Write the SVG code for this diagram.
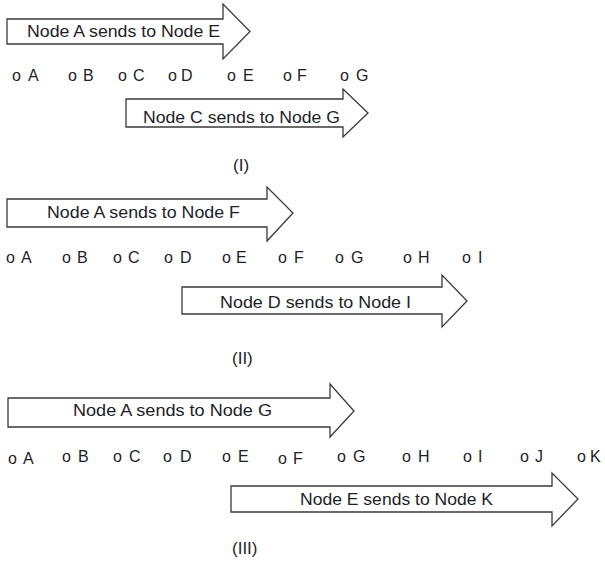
<svg xmlns="http://www.w3.org/2000/svg" width="605" height="562" viewBox="0 0 605 562">
<style>
.arrow{fill:#ffffff;stroke:#3a3a3a;stroke-width:1.3;stroke-linejoin:miter}
.lbl{font-family:"Liberation Sans",Arial,sans-serif;font-size:16px;fill:#1e1e28}
.nd{font-family:"Liberation Sans",Arial,sans-serif;font-size:16px;fill:#1e1e28}
.cap{font-family:"Liberation Sans",Arial,sans-serif;font-size:17px;fill:#1e1e28}
</style>
<rect width="605" height="562" fill="#ffffff"/>
<g id="connectors">
  <g id="arrow-I-1">
    <polygon class="arrow" points="7,19 223,19 223,4 250,31.5 223,59 223,44 7,44"/>
    <text class="lbl" x="27" y="37" textLength="193" lengthAdjust="spacingAndGlyphs">Node A sends to Node E</text>
  </g>
  <g id="arrow-I-2">
    <polygon class="arrow" points="126,99 343,99 343,89 368,113 343,137 343,127 126,127"/>
    <text class="lbl" x="143" y="123" textLength="197" lengthAdjust="spacingAndGlyphs">Node C sends to Node G</text>
  </g>
  <g id="arrow-II-1">
    <polygon class="arrow" points="7,199 267,199 267,187 293,213 267,241 267,227 7,227"/>
    <text class="lbl" x="47" y="218" textLength="193" lengthAdjust="spacingAndGlyphs">Node A sends to Node F</text>
  </g>
  <g id="arrow-II-2">
    <polygon class="arrow" points="182,287 442,287 442,275 467,301 442,327 442,314 182,314"/>
    <text class="lbl" x="220" y="308" textLength="191" lengthAdjust="spacingAndGlyphs">Node D sends to Node I</text>
  </g>
  <g id="arrow-III-1">
    <polygon class="arrow" points="8,398 330,398 330,384 354,411 330,437 330,427 8,427"/>
    <text class="lbl" x="73" y="416" textLength="199" lengthAdjust="spacingAndGlyphs">Node A sends to Node G</text>
  </g>
  <g id="arrow-III-2">
    <polygon class="arrow" points="231,486 552,486 552,473 578,499 552,526 552,512 231,512"/>
    <text class="lbl" x="300" y="505" textLength="193" lengthAdjust="spacingAndGlyphs">Node E sends to Node K</text>
  </g>
</g>
<g id="row-I">
  <g id="I-A"><text class="nd" y="81"><tspan x="12">o</tspan><tspan x="28">A</tspan></text></g>
  <g id="I-B"><text class="nd" y="81"><tspan x="68">o</tspan><tspan x="83">B</tspan></text></g>
  <g id="I-C"><text class="nd" y="81"><tspan x="118">o</tspan><tspan x="133">C</tspan></text></g>
  <g id="I-D"><text class="nd" y="81"><tspan x="168">o</tspan><tspan x="181">D</tspan></text></g>
  <g id="I-E"><text class="nd" y="81"><tspan x="227">o</tspan><tspan x="243">E</tspan></text></g>
  <g id="I-F"><text class="nd" y="81"><tspan x="283">o</tspan><tspan x="297">F</tspan></text></g>
  <g id="I-G"><text class="nd" y="81"><tspan x="340">o</tspan><tspan x="356">G</tspan></text></g>
</g>
<g id="row-II">
  <g id="II-A"><text class="nd" y="263"><tspan x="6">o</tspan><tspan x="21">A</tspan></text></g>
  <g id="II-B"><text class="nd" y="263"><tspan x="62">o</tspan><tspan x="77">B</tspan></text></g>
  <g id="II-C"><text class="nd" y="263"><tspan x="113">o</tspan><tspan x="128">C</tspan></text></g>
  <g id="II-D"><text class="nd" y="263"><tspan x="164">o</tspan><tspan x="180">D</tspan></text></g>
  <g id="II-E"><text class="nd" y="263"><tspan x="222">o</tspan><tspan x="236">E</tspan></text></g>
  <g id="II-F"><text class="nd" y="263"><tspan x="278">o</tspan><tspan x="294">F</tspan></text></g>
  <g id="II-G"><text class="nd" y="263"><tspan x="335">o</tspan><tspan x="351">G</tspan></text></g>
  <g id="II-H"><text class="nd" y="263"><tspan x="403">o</tspan><tspan x="418">H</tspan></text></g>
  <g id="II-I"><text class="nd" y="263"><tspan x="462">o</tspan><tspan x="478">I</tspan></text></g>
</g>
<g id="row-III">
  <g id="III-A"><text class="nd" y="464"><tspan x="8">o</tspan><tspan x="23">A</tspan></text></g>
  <g id="III-B"><text class="nd" y="462"><tspan x="62">o</tspan><tspan x="78">B</tspan></text></g>
  <g id="III-C"><text class="nd" y="462"><tspan x="113">o</tspan><tspan x="129">C</tspan></text></g>
  <g id="III-D"><text class="nd" y="462"><tspan x="163">o</tspan><tspan x="180">D</tspan></text></g>
  <g id="III-E"><text class="nd" y="462"><tspan x="222">o</tspan><tspan x="238">E</tspan></text></g>
  <g id="III-F"><text class="nd" y="464"><tspan x="278">o</tspan><tspan x="293">F</tspan></text></g>
  <g id="III-G"><text class="nd" y="462"><tspan x="337">o</tspan><tspan x="353">G</tspan></text></g>
  <g id="III-H"><text class="nd" y="462"><tspan x="402">o</tspan><tspan x="418">H</tspan></text></g>
  <g id="III-I"><text class="nd" y="462"><tspan x="463">o</tspan><tspan x="478">I</tspan></text></g>
  <g id="III-J"><text class="nd" y="462"><tspan x="520">o</tspan><tspan x="535">J</tspan></text></g>
  <g id="III-K"><text class="nd" y="462"><tspan x="577">o</tspan><tspan x="590">K</tspan></text></g>
</g>
<g id="captions">
  <text class="cap" x="233" y="171">(I)</text>
  <text class="cap" x="232" y="364">(II)</text>
  <text class="cap" x="232" y="554">(III)</text>
</g>
</svg>
